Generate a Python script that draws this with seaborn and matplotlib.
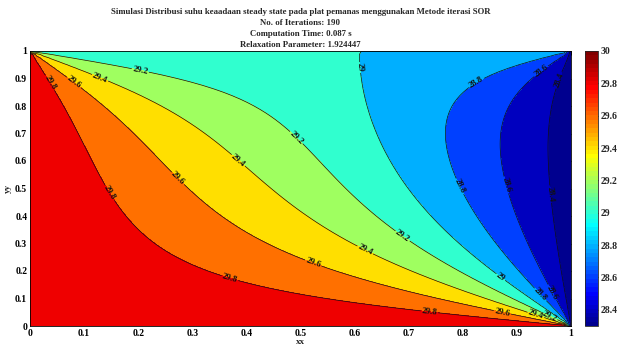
import numpy as np
import matplotlib
matplotlib.use("Agg")
import matplotlib.pyplot as plt
import seaborn as sns
from matplotlib.colors import Normalize, ListedColormap
from matplotlib.ticker import FormatStrFormatter
import matplotlib.cm as cm

# ---- data: plate boundary temperatures and solver settings ----
T_left = 30.0
T_bottom = 30.0
T_top = 29.0
T_right = 28.3
n_points = 81
omega = 1.924447

fill_levels = [28.3, 28.4, 28.6, 28.8, 29.0, 29.2, 29.4, 29.6, 29.8, 30.0]
line_levels = [28.4, 28.6, 28.8, 29.0, 29.2, 29.4, 29.6, 29.8]
cbar_ticks = [28.4, 28.6, 28.8, 29.0, 29.2, 29.4, 29.6, 29.8, 30.0]
axis_ticks = [0, 0.1, 0.2, 0.3, 0.4, 0.5, 0.6, 0.7, 0.8, 0.9, 1.0]
title_lines = [
    "Simulasi Distribusi suhu keaadaan steady state pada plat pemanas menggunakan Metode iterasi SOR",
    "No. of Iterations: 190",
    "Computation Time: 0.087 s",
    "Relaxation Parameter: 1.924447",
]
label_positions = [
    (0.033, 0.88), (0.079, 0.88), (0.129, 0.90), (0.203, 0.92),
    (0.49, 0.68), (0.384, 0.60), (0.61, 0.94), (0.827, 0.88),
    (0.947, 0.92), (0.983, 0.89), (0.144, 0.48), (0.27, 0.53),
    (0.522, 0.22), (0.369, 0.17), (0.618, 0.27), (0.686, 0.32),
    (0.871, 0.18), (0.797, 0.51), (0.876, 0.51), (0.963, 0.48),
    (0.941, 0.11), (0.963, 0.12), (0.738, 0.05), (0.873, 0.05),
    (0.935, 0.04), (0.96, 0.035),
]

# ---- steady-state field: Laplace equation solved by red-black SOR ----
n = n_points
T = np.full((n, n), np.mean([T_left, T_bottom, T_top, T_right]))
T[:, 0] = T_left
T[0, :] = T_bottom
T[-1, :] = T_top
T[:, -1] = T_right
jj, ii = np.mgrid[0:n, 0:n]
inner = np.zeros((n, n), bool)
inner[1:-1, 1:-1] = True
red = inner & ((ii + jj) % 2 == 0)
black = inner & ((ii + jj) % 2 == 1)
for _ in range(20000):
    dmax = 0.0
    for mask in (red, black):
        avg = np.zeros_like(T)
        avg[1:-1, 1:-1] = 0.25 * (T[2:, 1:-1] + T[:-2, 1:-1] + T[1:-1, 2:] + T[1:-1, :-2])
        delta = omega * (avg - T)
        T[mask] += delta[mask]
        dmax = max(dmax, np.abs(delta[mask]).max())
    if dmax < 1e-11:
        break

x = np.linspace(0, 1, n)
y = np.linspace(0, 1, n)
X, Y = np.meshgrid(x, y)

# ---- MATLAB-style jet(64) colormap ----
def matlab_jet(m=64):
    q = int(np.ceil(m / 4))
    u = np.concatenate([np.arange(1, q + 1) / q, np.ones(q - 1), np.arange(q, 0, -1) / q])
    g = int(np.ceil(q / 2)) - (1 if m % 4 == 1 else 0) + np.arange(1, len(u) + 1)
    r = g + q
    b = g - q
    J = np.zeros((m, 3))
    for ch, idx in ((0, r), (1, g), (2, b)):
        ok = (idx >= 1) & (idx <= m)
        J[idx[ok] - 1, ch] = u[ok]
    return J

jet64 = matlab_jet(64)
cmap = ListedColormap(jet64)
cmin, cmax = 28.3, 30.0
norm = Normalize(vmin=cmin, vmax=cmax)

def band_color(v):
    k = int(np.floor((v - cmin) / (cmax - cmin) * 64 + 1e-9))
    return tuple(jet64[min(max(k, 0), 63)])

band_colors = [band_color(v) for v in fill_levels[:-1]]

# ---- plotting ----
sns.set_style("white")
plt.rcParams["font.family"] = ["Liberation Serif", "DejaVu Serif"]
plt.rcParams["font.weight"] = "bold"

fig = plt.figure(figsize=(6.19, 3.54), dpi=100)
W, H = 619, 354
ax = fig.add_axes([30 / W, (H - 326) / H, 541 / W, 275 / H])
cax = fig.add_axes([585 / W, (H - 326) / H, 13 / W, 275 / H])

eps = 1e-9
flev = np.array(fill_levels) - eps
flev[-1] = fill_levels[-1] + 1e-6
ax.contourf(X, Y, T, levels=flev, colors=band_colors)
cs = ax.contour(X, Y, T, levels=np.array(line_levels) - eps, colors="#111111", linewidths=0.5)
ax.clabel(cs, manual=label_positions, inline=True, inline_spacing=1, fontsize=6.3,
          fmt=lambda v: f"{round(v, 1):g}")

ax.set_xlim(0, 1)
ax.set_ylim(0, 1)
ax.set_xticks(axis_ticks)
ax.set_yticks(axis_ticks)
ax.xaxis.set_major_formatter(FormatStrFormatter("%g"))
ax.yaxis.set_major_formatter(FormatStrFormatter("%g"))
ax.tick_params(direction="in", length=3, width=0.6, top=True, right=True,
               labelsize=7, pad=2, colors="black")
for s in ax.spines.values():
    s.set_linewidth(0.6)
    s.set_color("black")
ax.set_xlabel("xx", fontsize=6.5, fontweight="bold", labelpad=0)
ax.set_ylabel("yy", fontsize=6.5, fontweight="bold", labelpad=2)
ax.set_title("\n".join(title_lines), fontsize=6.3, fontweight="bold", pad=3, linespacing=1.5)

sm = cm.ScalarMappable(norm=norm, cmap=cmap)
cb = fig.colorbar(sm, cax=cax, ticks=cbar_ticks)
cb.ax.yaxis.set_major_formatter(FormatStrFormatter("%g"))
cb.ax.tick_params(direction="in", length=2.5, width=0.6, labelsize=7, pad=2)
cb.outline.set_linewidth(0.6)

fig.savefig("out.png", dpi=100)
